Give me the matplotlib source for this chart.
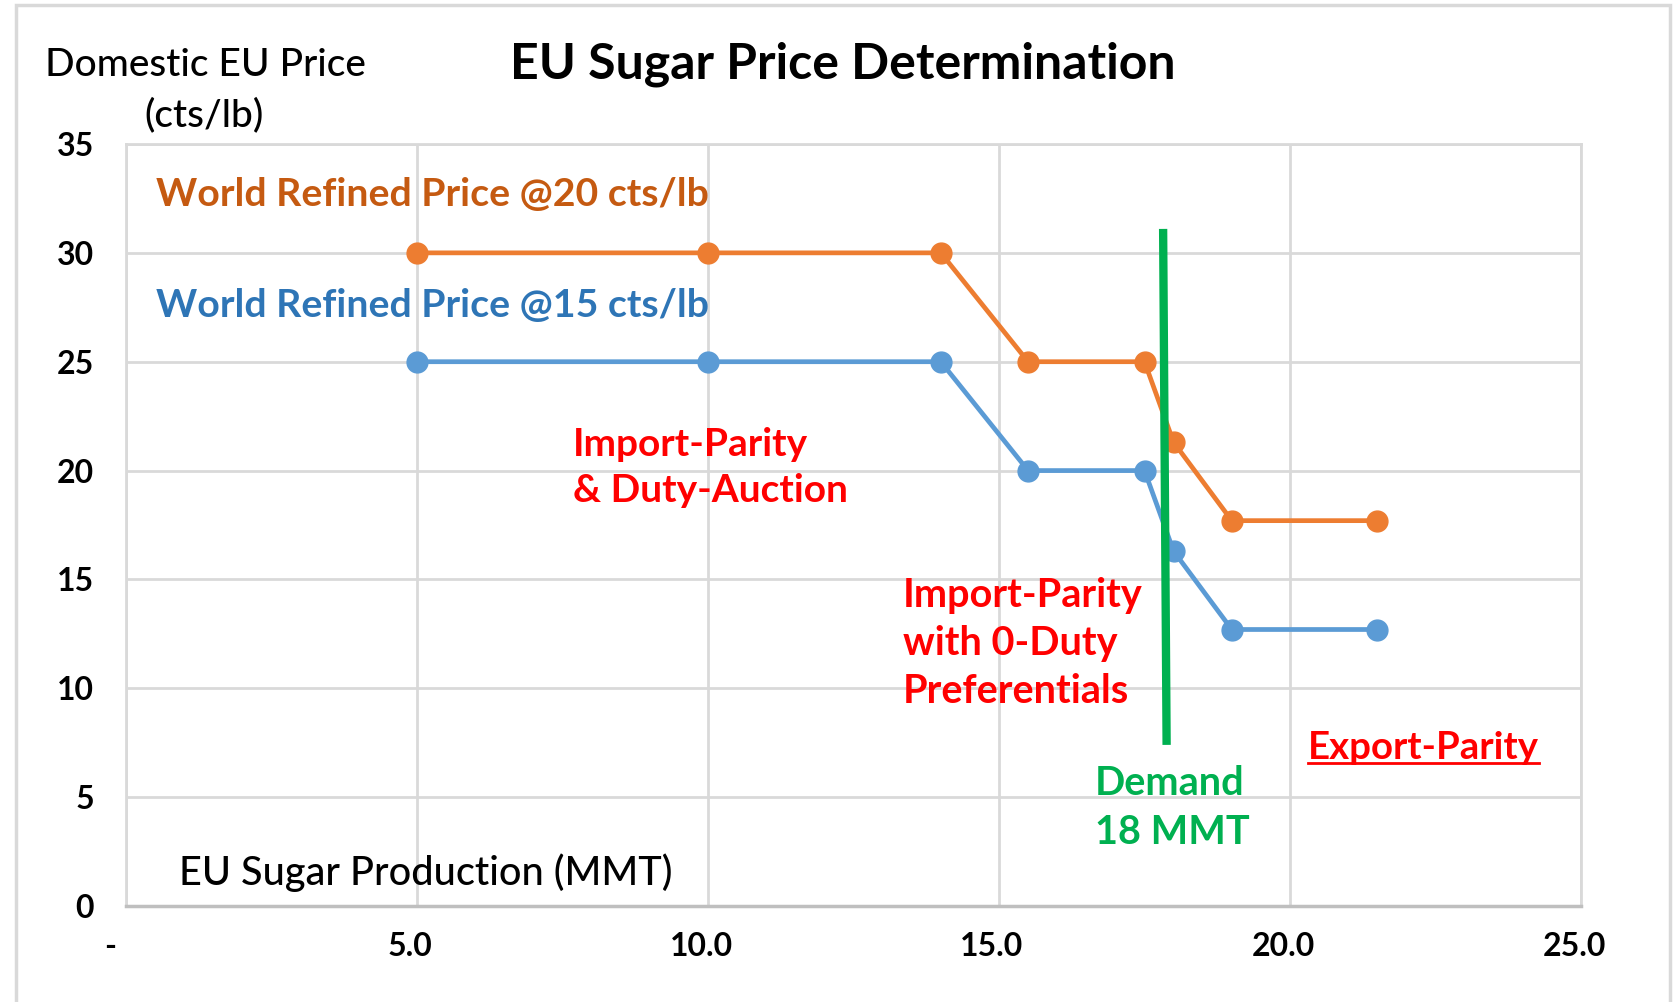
import matplotlib
matplotlib.use("Agg")
import matplotlib.pyplot as plt
from matplotlib.patches import Rectangle
from matplotlib.lines import Line2D
from matplotlib.transforms import ScaledTranslation

# ---- data ----
production = [5, 10, 14, 15.5, 17.5, 18, 19, 21.5]
price_world_20 = [30, 30, 30, 25, 25, 21.3, 17.7, 17.7]
price_world_15 = [25, 25, 25, 20, 20, 16.3, 12.7, 12.7]
demand_x = [17.82, 17.88]
demand_y = [31.1, 7.4]
x_ticks = [0, 5, 10, 15, 20, 25]
x_tick_labels = ["-", "5.0", "10.0", "15.0", "20.0", "25.0"]
y_ticks = [0, 5, 10, 15, 20, 25, 30, 35]

FONT = ["Lato", "DejaVu Sans"]
plt.rcParams["font.family"] = FONT

ORANGE = "#ED7D31"
BLUE = "#5B9BD5"
GREEN = "#00B050"
RED = "#FF0000"
GRID = "#D9D9D9"

W, H = 1675, 1002
fig = plt.figure(figsize=(W / 100, H / 100), dpi=100)
ax = fig.add_axes([126 / W, 96 / H, (1581 - 126) / W, (906 - 144) / H])

ax.plot(production, price_world_20, color=ORANGE, lw=3.4, marker="o", ms=15, zorder=3)
ax.plot(production, price_world_15, color=BLUE, lw=3.4, marker="o", ms=15, zorder=3)
ax.plot(demand_x, demand_y, color=GREEN, lw=6, solid_capstyle="butt", zorder=4)

ax.set_xlim(0, 25)
ax.set_ylim(0, 35)
ax.set_xticks(x_ticks)
ax.set_xticklabels(x_tick_labels)
ax.set_yticks(y_ticks)
ax.grid(True, color=GRID, lw=2, zorder=0)
ax.set_axisbelow(True)
for s in ["top", "right", "left"]:
    ax.spines[s].set_color(GRID)
    ax.spines[s].set_linewidth(2)
ax.spines["bottom"].set_color("#BFBFBF")
ax.spines["bottom"].set_linewidth(2.5)
ax.tick_params(axis="both", length=0, labelsize=23)
ax.tick_params(axis="y", pad=23)
ax.tick_params(axis="x", pad=19)
for i, lab in enumerate(ax.get_xticklabels()):
    lab.set_fontweight("bold")
    dx = -16 if i == 0 else -7
    lab.set_transform(lab.get_transform() + ScaledTranslation(dx / 100, 0, fig.dpi_scale_trans))
for lab in ax.get_yticklabels():
    lab.set_fontweight("bold")

# annotations in data coords
ax.text(0.52, 32.66, "World Refined Price @20 cts/lb", color="#C55A11", fontsize=28.3,
        fontweight="bold", va="center", ha="left")
ax.text(0.52, 27.56, "World Refined Price @15 cts/lb", color="#2E75B6", fontsize=28.3,
        fontweight="bold", va="center", ha="left")
ax.text(7.68, 20.15, "Import-Parity\n& Duty-Auction", color=RED, fontsize=28,
        fontweight="bold", va="center", ha="left", linespacing=1.4)
ax.text(13.35, 12.06, "Import-Parity\nwith 0-Duty\nPreferentials", color=RED, fontsize=28.5,
        fontweight="bold", va="center", ha="left", linespacing=1.38)
exp = ax.text(20.31, 7.26, "Export-Parity", color=RED, fontsize=27.6,
              fontweight="bold", va="center", ha="left")
ax.text(16.65, 4.5, "Demand\n18 MMT", color=GREEN, fontsize=28.5,
        fontweight="bold", va="center", ha="left", linespacing=1.38)
ax.text(0.91, 1.52, "EU Sugar Production (MMT)", color="black", fontsize=28.5,
        fontweight="medium", va="center", ha="left")

# labels outside axes
fig.text(45 / W, 1 - 66 / H, "Domestic EU Price", fontsize=28, fontweight="medium",
         va="center", ha="left")
fig.text(204 / W, 1 - 115 / H, "(cts/lb)", fontsize=28, fontweight="medium",
         va="center", ha="center")
fig.text(843 / W, 1 - 64 / H, "EU Sugar Price Determination", fontsize=36,
         fontweight="bold", va="center", ha="center")

# outer border
fig.patches.append(Rectangle((16 / W, -0.05), (1670 - 16) / W, 1.05 - 5 / H,
                             transform=fig.transFigure, fill=False, ec=GRID, lw=2.5))

# underline for Export-Parity
fig.canvas.draw()
bb = exp.get_window_extent()
uy = bb.y0 + 2
fig.lines.append(Line2D([bb.x0 / W, bb.x1 / W], [uy / H, uy / H], transform=fig.transFigure,
                        color=RED, lw=2))

fig.savefig("out.png", dpi=100)
